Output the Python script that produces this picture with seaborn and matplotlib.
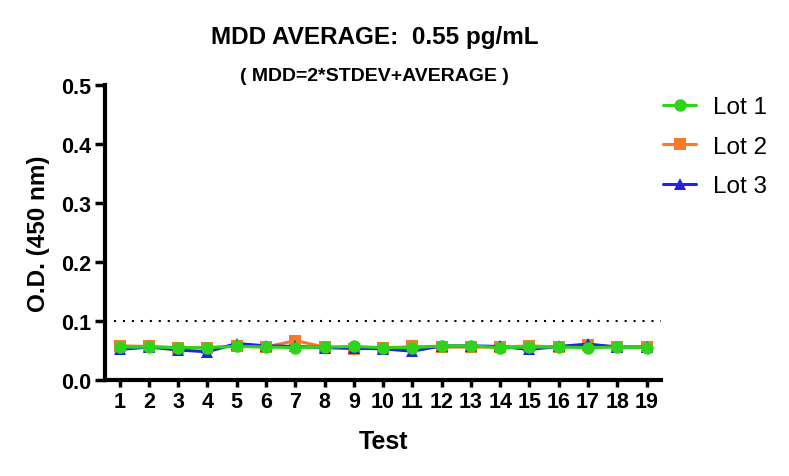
import numpy as np
import pandas as pd
import seaborn as sns
import matplotlib.pyplot as plt

tests = list(range(1, 20))
lot1 = [0.056, 0.056, 0.055, 0.055, 0.057, 0.056, 0.055, 0.056, 0.057, 0.055,
        0.055, 0.058, 0.058, 0.055, 0.056, 0.056, 0.055, 0.056, 0.055]
lot2 = [0.058, 0.057, 0.055, 0.055, 0.058, 0.056, 0.067, 0.056, 0.053, 0.054,
        0.057, 0.056, 0.056, 0.056, 0.058, 0.056, 0.060, 0.056, 0.056]
lot3 = [0.052, 0.056, 0.051, 0.048, 0.062, 0.058, 0.057, 0.055, 0.054, 0.053,
        0.049, 0.058, 0.058, 0.057, 0.052, 0.057, 0.061, 0.056, 0.056]
cutoff = 0.1

sns.set_style("ticks")
plt.rcParams['font.family'] = ['Liberation Sans', 'DejaVu Sans']
plt.rcParams['text.color'] = 'black'
plt.rcParams['xtick.color'] = 'black'
plt.rcParams['ytick.color'] = 'black'
plt.rcParams['axes.labelcolor'] = 'black'
plt.rcParams['axes.edgecolor'] = 'black'

fig = plt.figure(figsize=(7.89, 4.77), dpi=100)
ax = fig.add_axes([0.133, 0.201, 0.705, 0.619])

series = [("Lot 1", lot1, "#2ed41c", "o", 3),
          ("Lot 2", lot2, "#f47a2c", "s", 1),
          ("Lot 3", lot3, "#2323e0", "^", 2)]
for name, vals, color, marker, z in series:
    df = pd.DataFrame({"Test": tests, "OD": vals})
    sns.lineplot(data=df, x="Test", y="OD", ax=ax, color=color, marker=marker,
                 markersize=9, markeredgewidth=0, linewidth=2.2, label=name, zorder=z)

ax.axhline(cutoff, color="black", linestyle=(0, (1, 3.3)), linewidth=1.5, zorder=0)

ax.set_xlim(0.5, 19.5)
ax.set_ylim(0, 0.5)
ax.set_xticks(tests)
ax.set_yticks(np.arange(0, 0.51, 0.1))
ax.set_yticklabels([f"{v:.1f}" for v in np.arange(0, 0.51, 0.1)])
ax.tick_params(axis='both', direction='out', width=2.5, labelsize=15.5, pad=3)
ax.tick_params(axis='x', length=5)
ax.tick_params(axis='y', length=7)
for lab in ax.get_xticklabels() + ax.get_yticklabels():
    lab.set_fontweight('bold')

for s in ['top', 'right']:
    ax.spines[s].set_visible(False)
for s in ['left', 'bottom']:
    ax.spines[s].set_linewidth(3)

ax.set_xlabel("Test", fontsize=18, fontweight='bold', labelpad=12)
ax.set_ylabel("O.D. (450 nm)", fontsize=17.5, fontweight='bold', labelpad=8)

fig.text(0.475, 0.921, "MDD AVERAGE:  0.55 pg/mL", ha='center', va='center',
         fontsize=17.5, fontweight='bold')
fig.text(0.475, 0.840, "( MDD=2*STDEV+AVERAGE )", ha='center', va='center',
         fontsize=14, fontweight='bold')

ax.legend(loc='upper left', bbox_to_anchor=(1.004, 0.962), frameon=False,
          borderaxespad=0, borderpad=0,
          fontsize=17.5, handlelength=1.35, labelspacing=0.72, handletextpad=0.7)

fig.savefig("out.png", dpi=100)
